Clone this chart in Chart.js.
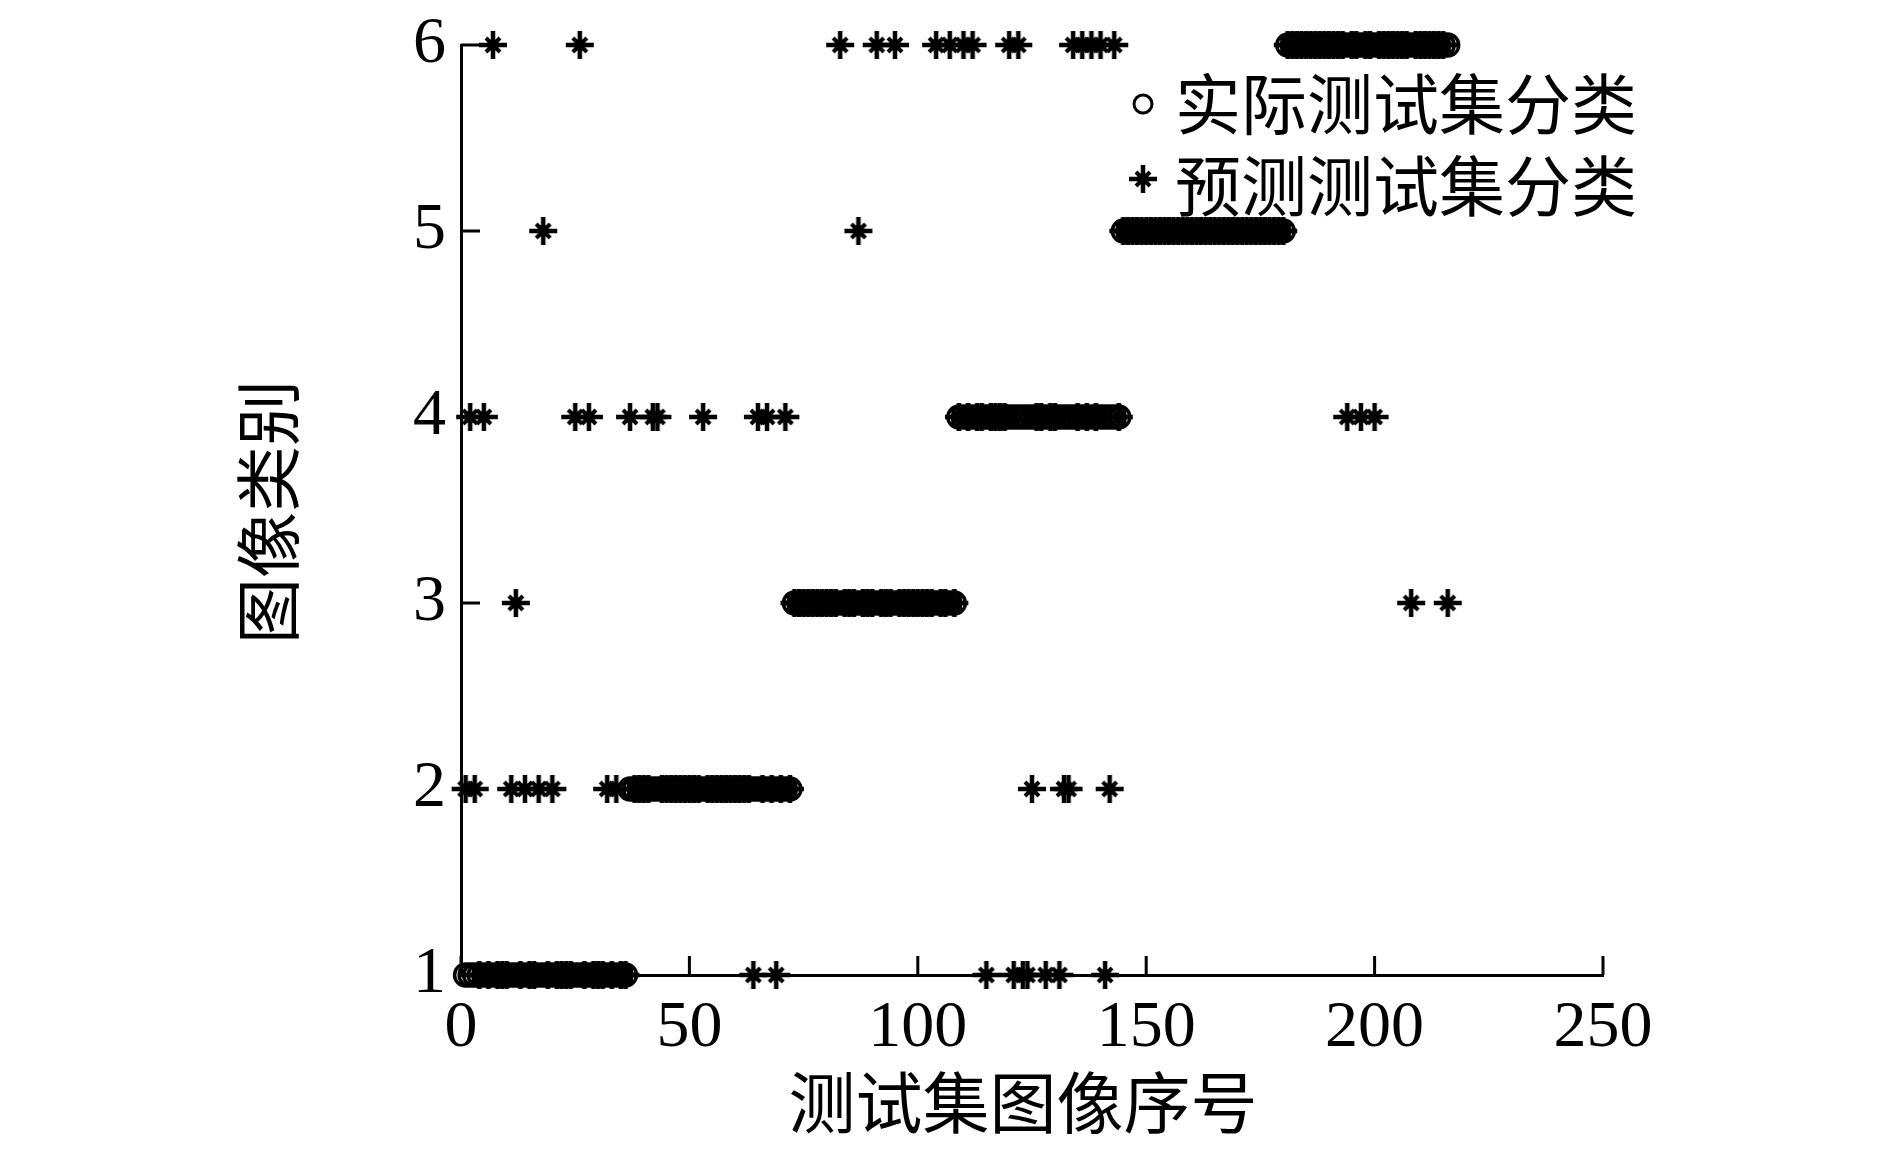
<!DOCTYPE html>
<html>
<head>
<meta charset="utf-8">
<script src="https://cdn.jsdelivr.net/npm/chart.js@4.4.0/dist/chart.umd.min.js"></script>
<style>
  html, body { margin: 0; padding: 0; background: #fff; }
  #wrap { width: 1890px; height: 1157px; position: relative; }
</style>
</head>
<body>
<div id="wrap"><canvas id="chart"></canvas></div>
<script>
// 实际类别: 216 张测试图像, 每类 36 张
const actualClass = [
  1,1,1,1,1,1,1,1,1,1,1,1,1,1,1,1,1,1,1,1,1,1,1,1,1,1,1,1,1,1,1,1,1,1,1,1,
  2,2,2,2,2,2,2,2,2,2,2,2,2,2,2,2,2,2,2,2,2,2,2,2,2,2,2,2,2,2,2,2,2,2,2,2,
  3,3,3,3,3,3,3,3,3,3,3,3,3,3,3,3,3,3,3,3,3,3,3,3,3,3,3,3,3,3,3,3,3,3,3,3,
  4,4,4,4,4,4,4,4,4,4,4,4,4,4,4,4,4,4,4,4,4,4,4,4,4,4,4,4,4,4,4,4,4,4,4,4,
  5,5,5,5,5,5,5,5,5,5,5,5,5,5,5,5,5,5,5,5,5,5,5,5,5,5,5,5,5,5,5,5,5,5,5,5,
  6,6,6,6,6,6,6,6,6,6,6,6,6,6,6,6,6,6,6,6,6,6,6,6,6,6,6,6,6,6,6,6,6,6,6,6
];
// 预测类别
const predictedClass = [
  2,4,2,1,4,1,6,1,1,1,2,3,1,2,1,1,2,5,1,2,1,1,1,1,4,6,1,4,1,1,1,2,1,2,1,1,
  4,2,2,2,2,4,4,2,2,2,2,2,2,2,2,2,4,2,2,2,2,2,2,2,2,2,2,1,4,2,4,2,1,2,4,2,
  3,3,3,3,3,3,3,3,3,3,6,3,3,3,5,3,3,3,6,3,3,3,6,3,3,3,3,3,3,3,3,6,3,3,6,3,
  4,6,4,6,4,4,1,4,4,4,4,6,1,6,1,1,2,4,4,1,4,4,1,2,2,6,4,6,4,6,4,6,1,2,6,4,
  5,5,5,5,5,5,5,5,5,5,5,5,5,5,5,5,5,5,5,5,5,5,5,5,5,5,5,5,5,5,5,5,5,5,5,5,
  6,6,6,6,6,6,6,6,6,6,6,6,6,4,6,6,4,6,6,4,6,6,6,6,6,6,6,3,6,6,6,6,6,6,6,3
];
const xTicks = [0, 50, 100, 150, 200, 250];
const yTicks = [1, 2, 3, 4, 5, 6];
const seriesNames = ['实际测试集分类', '预测测试集分类'];
const xTitle = '测试集图像序号';
const yTitle = '图像类别';

// 星形标记 (横竖长, 斜线短, 中心加粗)
function makeStar() {
  const c = document.createElement('canvas');
  c.width = 32; c.height = 32;
  const g = c.getContext('2d');
  g.strokeStyle = '#000';
  g.fillStyle = '#000';
  g.lineWidth = 4.5;
  g.beginPath();
  g.moveTo(2, 16); g.lineTo(30, 16);
  g.moveTo(16, 2); g.lineTo(16, 30);
  g.stroke();
  g.lineWidth = 4;
  g.beginPath();
  g.moveTo(9, 9); g.lineTo(23, 23);
  g.moveTo(23, 9); g.lineTo(9, 23);
  g.stroke();
  g.beginPath();
  g.arc(16, 16, 6, 0, Math.PI * 2);
  g.fill();
  return c;
}
const starImg = makeStar();

const actualPts = actualClass.map((c, i) => ({ x: i + 1, y: c }));
const predPts = predictedClass.map((c, i) => ({ x: i + 1, y: c }));

// 刻度朝内
const inwardTicks = {
  id: 'inwardTicks',
  afterDatasetsDraw(chart) {
    const { ctx, scales: { x, y }, chartArea } = chart;
    ctx.save();
    ctx.strokeStyle = '#000';
    ctx.lineWidth = 3;
    ctx.beginPath();
    xTicks.forEach(v => {
      const px = x.getPixelForValue(v);
      ctx.moveTo(px, chartArea.bottom);
      ctx.lineTo(px, chartArea.bottom - 19);
    });
    yTicks.forEach(v => {
      const py = y.getPixelForValue(v);
      ctx.moveTo(chartArea.left, py);
      ctx.lineTo(chartArea.left + 19, py);
    });
    ctx.stroke();
    ctx.restore();
  }
};

// 坐标轴标题 + 图例 (右上角, 无边框)
const plotText = {
  id: 'plotText',
  afterDraw(chart) {
    const ctx = chart.ctx;
    ctx.save();
    ctx.fillStyle = '#000';
    ctx.textBaseline = 'middle';
    ctx.textAlign = 'center';
    ctx.font = '67px "Noto Sans CJK SC"';
    ctx.fillText(xTitle, 1023, 1103);
    ctx.save();
    ctx.translate(268, 512);
    ctx.rotate(-Math.PI / 2);
    ctx.font = '66px "Noto Sans CJK SC"';
    ctx.fillText(yTitle, 0, 0);
    ctx.restore();

    const mx = 1143, tx = 1175;
    const rows = [104, 186];
    ctx.strokeStyle = '#000';
    ctx.lineWidth = 3;
    ctx.beginPath();
    ctx.arc(mx, rows[0], 9, 0, Math.PI * 2);
    ctx.stroke();
    ctx.drawImage(starImg, mx - 16, rows[1] - 23);
    ctx.font = '66px "Noto Sans CJK SC"';
    ctx.textAlign = 'left';
    seriesNames.forEach((t, i) => ctx.fillText(t, tx, rows[i]));
    ctx.restore();
  }
};

const tickFont = { family: '"Liberation Serif", "Times New Roman", serif', size: 66 };

new Chart(document.getElementById('chart'), {
  type: 'scatter',
  data: {
    datasets: [
      {
        label: seriesNames[0],
        data: actualPts,
        pointStyle: 'circle',
        pointRadius: 11,
        borderWidth: 3.5,
        borderColor: '#000',
        backgroundColor: 'rgba(0,0,0,0)',
        clip: false
      },
      {
        label: seriesNames[1],
        data: predPts,
        pointStyle: starImg,
        borderColor: '#000',
        backgroundColor: '#000',
        clip: false
      }
    ]
  },
  options: {
    responsive: true,
    maintainAspectRatio: false,
    animation: false,
    layout: { padding: { left: 0, right: 287, top: 45, bottom: 0 } },
    plugins: {
      legend: { display: false },
      tooltip: { enabled: false }
    },
    scales: {
      x: {
        type: 'linear',
        min: 0, max: 250,
        afterFit: s => { s.height = 182; s.paddingLeft = 0; s.paddingRight = 0; },
        afterBuildTicks: s => { s.ticks = xTicks.map(v => ({ value: v })); },
        grid: { display: false, drawTicks: false },
        border: { display: true, color: '#000', width: 3 },
        ticks: { color: '#000', padding: 14, autoSkip: false, maxRotation: 0, font: tickFont }
      },
      y: {
        type: 'linear',
        min: 1, max: 6,
        afterFit: s => { s.width = 461; s.paddingTop = 0; s.paddingBottom = 0; },
        afterBuildTicks: s => { s.ticks = yTicks.map(v => ({ value: v })); },
        grid: { display: false, drawTicks: false },
        border: { display: true, color: '#000', width: 3 },
        ticks: { color: '#000', padding: 15, autoSkip: false, font: tickFont }
      }
    }
  },
  plugins: [inwardTicks, plotText]
});
</script>
</body>
</html>
